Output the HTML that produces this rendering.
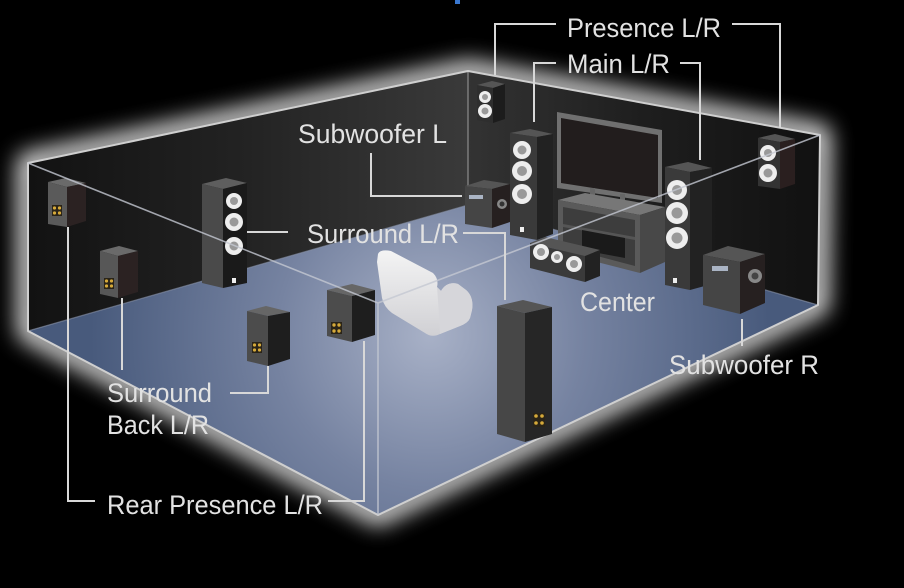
<!DOCTYPE html>
<html><head><meta charset="utf-8">
<style>
html,body{margin:0;padding:0;background:#000;}
svg{display:block;}
text{font-family:"Liberation Sans",sans-serif;fill:#e2e2e2;font-size:27px;}
</style></head><body>
<svg width="904" height="588" viewBox="0 0 904 588" xmlns="http://www.w3.org/2000/svg">
<defs>
<filter id="glow" x="-20%" y="-30%" width="140%" height="160%"><feGaussianBlur stdDeviation="11"/></filter>
<linearGradient id="lw" x1="28" y1="0" x2="468" y2="0" gradientUnits="userSpaceOnUse">
 <stop offset="0" stop-color="#121212"/><stop offset="0.5" stop-color="#232323"/><stop offset="1" stop-color="#3a3a3a"/>
</linearGradient>
<linearGradient id="bw" x1="468" y1="0" x2="818" y2="0" gradientUnits="userSpaceOnUse">
 <stop offset="0" stop-color="#333"/><stop offset="0.5" stop-color="#1e1e1e"/><stop offset="1" stop-color="#111"/>
</linearGradient>
<radialGradient id="fl" cx="430" cy="335" r="340" gradientUnits="userSpaceOnUse">
 <stop offset="0" stop-color="#a8b1c7"/><stop offset="0.45" stop-color="#7683a1"/><stop offset="1" stop-color="#485a7c"/>
</radialGradient>
<linearGradient id="couch" x1="0" y1="250" x2="0" y2="336" gradientUnits="userSpaceOnUse">
 <stop offset="0" stop-color="#f4f4f4"/><stop offset="1" stop-color="#d0d0d4"/>
</linearGradient>
</defs>
<rect width="904" height="588" fill="#000"/>
<rect x="455" y="0" width="5" height="4" fill="#3a78d0"/>

<!-- glow -->
<polygon points="28,163 468,71 820,135 818,305 378,515 28,331" fill="none" stroke="#fff" stroke-width="22" stroke-linejoin="round" filter="url(#glow)" opacity="0.85"/>

<!-- walls & floor -->
<polygon points="28,163 468,71 468,205 28,331" fill="url(#lw)"/>
<polygon points="468,71 820,135 818,305 468,205" fill="url(#bw)"/>
<polygon points="28,331 468,205 818,305 378,515" fill="url(#fl)"/>
<line x1="468" y1="71" x2="468" y2="205" stroke="#9a9a9a" stroke-width="1.5" opacity="0.7"/>
<polyline points="28,331 468,205 818,305" fill="none" stroke="#8a94aa" stroke-width="1.2" opacity="0.6"/>

<!-- outer edges -->
<polygon points="28,163 468,71 820,135 818,305 378,515 28,331" fill="none" stroke="#cfcfcf" stroke-width="2" stroke-linejoin="round"/>

<!-- Presence L -->
<polygon points="477,85 492,81 505,84 493,88" fill="#555"/>
<polygon points="477,85 493,88 493,123 477,120" fill="#2e2e2e"/>
<polygon points="493,88 505,84 505,119 493,123" fill="#1c1c1c"/>
<circle cx="485" cy="97" r="6" fill="#eee"/><circle cx="485" cy="97" r="3" fill="#999"/>
<circle cx="485" cy="111" r="7" fill="#eee"/><circle cx="485" cy="111" r="3.5" fill="#999"/>

<!-- Presence R -->
<polygon points="758,138 775,134 795,139 780,142" fill="#555"/>
<polygon points="758,138 780,142 780,189 758,186" fill="#333"/>
<polygon points="780,142 795,139 795,184 780,189" fill="#2a1f1f"/>
<circle cx="768" cy="153" r="8" fill="#eee"/><circle cx="768" cy="153" r="4" fill="#999"/>
<circle cx="768" cy="173" r="9" fill="#eee"/><circle cx="768" cy="173" r="4.5" fill="#999"/>

<!-- TV -->
<polygon points="557,112 662,130 662,203 557,188" fill="#707070"/>
<polygon points="561,118 658,135 658,198 561,183" fill="#221d1d"/>
<rect x="590" y="188" width="5" height="10" fill="#666"/>
<rect x="620" y="194" width="5" height="10" fill="#666"/>

<!-- Cabinet -->
<polygon points="558,200 585,193 665,207 640,215" fill="#777"/>
<polygon points="558,200 640,215 640,273 558,252" fill="#5a5a5a"/>
<polygon points="563,207 635,220 635,266 563,247" fill="#3d3d3d"/>
<polygon points="563,224 635,237 635,240 563,227" fill="#555"/>
<polygon points="582,230 625,238 625,258 582,250" fill="#1a1a1a"/>
<polygon points="640,215 665,207 665,262 640,273" fill="#484848"/>

<!-- Sub L -->
<polygon points="465,186 484,180 510,184 492,189" fill="#555"/>
<polygon points="465,186 492,189 492,228 465,224" fill="#454545"/>
<polygon points="492,189 510,184 510,222 492,228" fill="#262020"/>
<rect x="469" y="195" width="14" height="4" fill="#aab4c4"/>
<circle cx="502" cy="204" r="5" fill="#888"/><circle cx="502" cy="204" r="2.5" fill="#333"/>

<!-- Main L -->
<polygon points="510,133 530,129 553,134 537,137" fill="#555"/>
<polygon points="510,133 537,137 537,240 510,235" fill="#3a3a3a"/>
<polygon points="537,137 553,134 553,234 537,240" fill="#222"/>
<circle cx="522" cy="150" r="9" fill="#eee"/><circle cx="522" cy="150" r="4.5" fill="#999"/>
<circle cx="522" cy="171" r="10" fill="#eee"/><circle cx="522" cy="171" r="5" fill="#999"/>
<circle cx="522" cy="194" r="10" fill="#eee"/><circle cx="522" cy="194" r="5" fill="#999"/>
<rect x="520" y="227" width="4" height="5" fill="#eee"/>

<!-- Center -->
<polygon points="530,243 545,237 600,250 585,256" fill="#555"/>
<polygon points="530,243 585,256 585,282 530,268" fill="#3a3a3a"/>
<polygon points="585,256 600,250 600,276 585,282" fill="#222"/>
<circle cx="541" cy="252" r="8" fill="#eee"/><circle cx="541" cy="252" r="4" fill="#999"/>
<circle cx="557" cy="257" r="6" fill="#eee"/><circle cx="557" cy="257" r="3" fill="#999"/>
<circle cx="574" cy="264" r="8" fill="#eee"/><circle cx="574" cy="264" r="4" fill="#999"/>

<!-- Main R -->
<polygon points="665,167 688,162 712,168 690,172" fill="#555"/>
<polygon points="665,167 690,172 690,290 665,285" fill="#3a3a3a"/>
<polygon points="690,172 712,168 712,284 690,290" fill="#222"/>
<circle cx="677" cy="190" r="10" fill="#eee"/><circle cx="677" cy="190" r="5" fill="#999"/>
<circle cx="677" cy="213" r="11" fill="#eee"/><circle cx="677" cy="213" r="5.5" fill="#999"/>
<circle cx="677" cy="238" r="11" fill="#eee"/><circle cx="677" cy="238" r="5.5" fill="#999"/>
<rect x="673" y="278" width="4" height="5" fill="#eee"/>

<!-- Sub R -->
<polygon points="703,255 728,246 765,254 740,262" fill="#555"/>
<polygon points="703,255 740,262 740,314 703,305" fill="#454545"/>
<polygon points="740,262 765,254 765,303 740,314" fill="#262020"/>
<rect x="712" y="266" width="16" height="5" fill="#aab4c4"/>
<circle cx="755" cy="276" r="7" fill="#888"/><circle cx="755" cy="276" r="3.5" fill="#444"/>

<!-- Rear Presence L -->
<polygon points="48,182 66,178 86,183 67,187" fill="#6a6a6a"/>
<polygon points="48,182 67,187 67,227 48,224" fill="#5a5a5a"/>
<polygon points="67,187 86,183 86,221 67,227" fill="#2b2222"/>
<rect x="52" y="205" width="10" height="11" fill="#2a2418"/>
<circle cx="54.5" cy="208" r="1.6" fill="#d6aa3a"/><circle cx="59.5" cy="208" r="1.6" fill="#d6aa3a"/>
<circle cx="54.5" cy="213" r="1.6" fill="#d6aa3a"/><circle cx="59.5" cy="213" r="1.6" fill="#d6aa3a"/>

<!-- Surround Back L -->
<polygon points="100,251 119,246 138,251 118,256" fill="#6a6a6a"/>
<polygon points="100,251 118,256 118,298 100,294" fill="#575757"/>
<polygon points="118,256 138,251 138,292 118,298" fill="#2b2222"/>
<rect x="104" y="278" width="10" height="11" fill="#2a2418"/>
<circle cx="106.5" cy="281" r="1.6" fill="#d6aa3a"/><circle cx="111.5" cy="281" r="1.6" fill="#d6aa3a"/>
<circle cx="106.5" cy="286" r="1.6" fill="#d6aa3a"/><circle cx="111.5" cy="286" r="1.6" fill="#d6aa3a"/>

<!-- Surround L tower -->
<polygon points="202,184 226,178 247,183 223,189" fill="#5e5e5e"/>
<polygon points="202,184 223,189 223,288 202,283" fill="#4a4a4a"/>
<polygon points="223,189 247,183 247,283 223,288" fill="#1a1a1a"/>
<circle cx="234" cy="201" r="8" fill="#eee"/><circle cx="234" cy="201" r="4" fill="#999"/>
<circle cx="234" cy="222" r="9" fill="#eee"/><circle cx="234" cy="222" r="4.5" fill="#999"/>
<circle cx="234" cy="246" r="9" fill="#eee"/><circle cx="234" cy="246" r="4.5" fill="#999"/>
<rect x="232" y="278" width="4" height="5" fill="#eee"/>

<!-- Couch -->
<path d="M378,254 Q380,249 391,251 L433,273 Q439,279 437,287 L441,291 Q447,281 458,284 L466,290 Q474,297 472,310 L470,318 Q468,323 460,326 L440,334 Q432,338 425,333 L392,313 Q384,307 382,298 L377,262 Z" fill="url(#couch)"/>
<path d="M437,287 L441,291 Q447,281 458,284 L466,290 Q474,297 472,310 L470,318 Q468,323 460,326 L440,334 L438,300 Z" fill="#d6d6da"/>

<!-- Surround Back R -->
<polygon points="247,311 266,306 290,312 268,316" fill="#666"/>
<polygon points="247,311 268,316 268,366 247,361" fill="#4c4c4c"/>
<polygon points="268,316 290,312 290,359 268,366" fill="#1e1e1e"/>
<rect x="252" y="342" width="10" height="11" fill="#2a2418"/>
<circle cx="254.5" cy="345" r="1.6" fill="#d6aa3a"/><circle cx="259.5" cy="345" r="1.6" fill="#d6aa3a"/>
<circle cx="254.5" cy="350" r="1.6" fill="#d6aa3a"/><circle cx="259.5" cy="350" r="1.6" fill="#d6aa3a"/>

<!-- Rear Presence R -->
<polygon points="327,290 352,284 375,290 352,296" fill="#666"/>
<polygon points="327,290 352,296 352,342 327,336" fill="#4c4c4c"/>
<polygon points="352,296 375,290 375,335 352,342" fill="#1e1e1e"/>
<rect x="331" y="322" width="11" height="12" fill="#2a2418"/>
<circle cx="334" cy="325" r="1.7" fill="#d6aa3a"/><circle cx="339" cy="325" r="1.7" fill="#d6aa3a"/>
<circle cx="334" cy="331" r="1.7" fill="#d6aa3a"/><circle cx="339" cy="331" r="1.7" fill="#d6aa3a"/>

<!-- Surround R tower -->
<polygon points="497,306 523,300 552,307 525,313" fill="#555"/>
<polygon points="497,306 525,313 525,442 497,434" fill="#474747"/>
<polygon points="525,313 552,307 552,434 525,442" fill="#262626"/>
<rect x="533" y="413" width="12" height="14" fill="#2a2418"/>
<circle cx="536" cy="416" r="1.8" fill="#d6aa3a"/><circle cx="542" cy="416" r="1.8" fill="#d6aa3a"/>
<circle cx="536" cy="423" r="1.8" fill="#d6aa3a"/><circle cx="542" cy="423" r="1.8" fill="#d6aa3a"/>

<!-- transparent room edges -->
<g stroke="#c4c8d2" stroke-width="1.6" opacity="0.8" fill="none">
<line x1="28" y1="163" x2="378" y2="303"/>
<line x1="820" y1="135" x2="378" y2="303"/>
<line x1="378" y1="303" x2="378" y2="515"/>
</g>

<!-- connectors -->
<g stroke="#d8d8d8" stroke-width="2" fill="none">
<polyline points="495,75 495,24 556,24"/>
<polyline points="732,24 780,24 780,128"/>
<polyline points="534,122 534,63 556,63"/>
<polyline points="680,63 700,63 700,160"/>
<polyline points="371,153 371,196 462,196"/>
<line x1="247" y1="232" x2="288" y2="232"/>
<polyline points="463,233 505,233 505,300"/>
<line x1="742" y1="319" x2="742" y2="346"/>
<line x1="122" y1="298" x2="122" y2="370"/>
<polyline points="230,393 268,393 268,366"/>
<polyline points="68,227 68,501 95,501"/>
<polyline points="328,501 364,501 364,341"/>
</g>

<!-- labels -->
<text x="567" y="37" textLength="154" lengthAdjust="spacingAndGlyphs">Presence L/R</text>
<text x="567" y="73" textLength="103" lengthAdjust="spacingAndGlyphs">Main L/R</text>
<text x="298" y="143" textLength="149" lengthAdjust="spacingAndGlyphs">Subwoofer L</text>
<text x="307" y="243" textLength="152" lengthAdjust="spacingAndGlyphs">Surround L/R</text>
<text x="580" y="311" textLength="75" lengthAdjust="spacingAndGlyphs">Center</text>
<text x="669" y="374" textLength="150" lengthAdjust="spacingAndGlyphs">Subwoofer R</text>
<text x="107" y="402" textLength="105" lengthAdjust="spacingAndGlyphs">Surround</text>
<text x="107" y="434" textLength="102" lengthAdjust="spacingAndGlyphs">Back L/R</text>
<text x="107" y="514" textLength="216" lengthAdjust="spacingAndGlyphs">Rear Presence L/R</text>
</svg>
</body></html>
